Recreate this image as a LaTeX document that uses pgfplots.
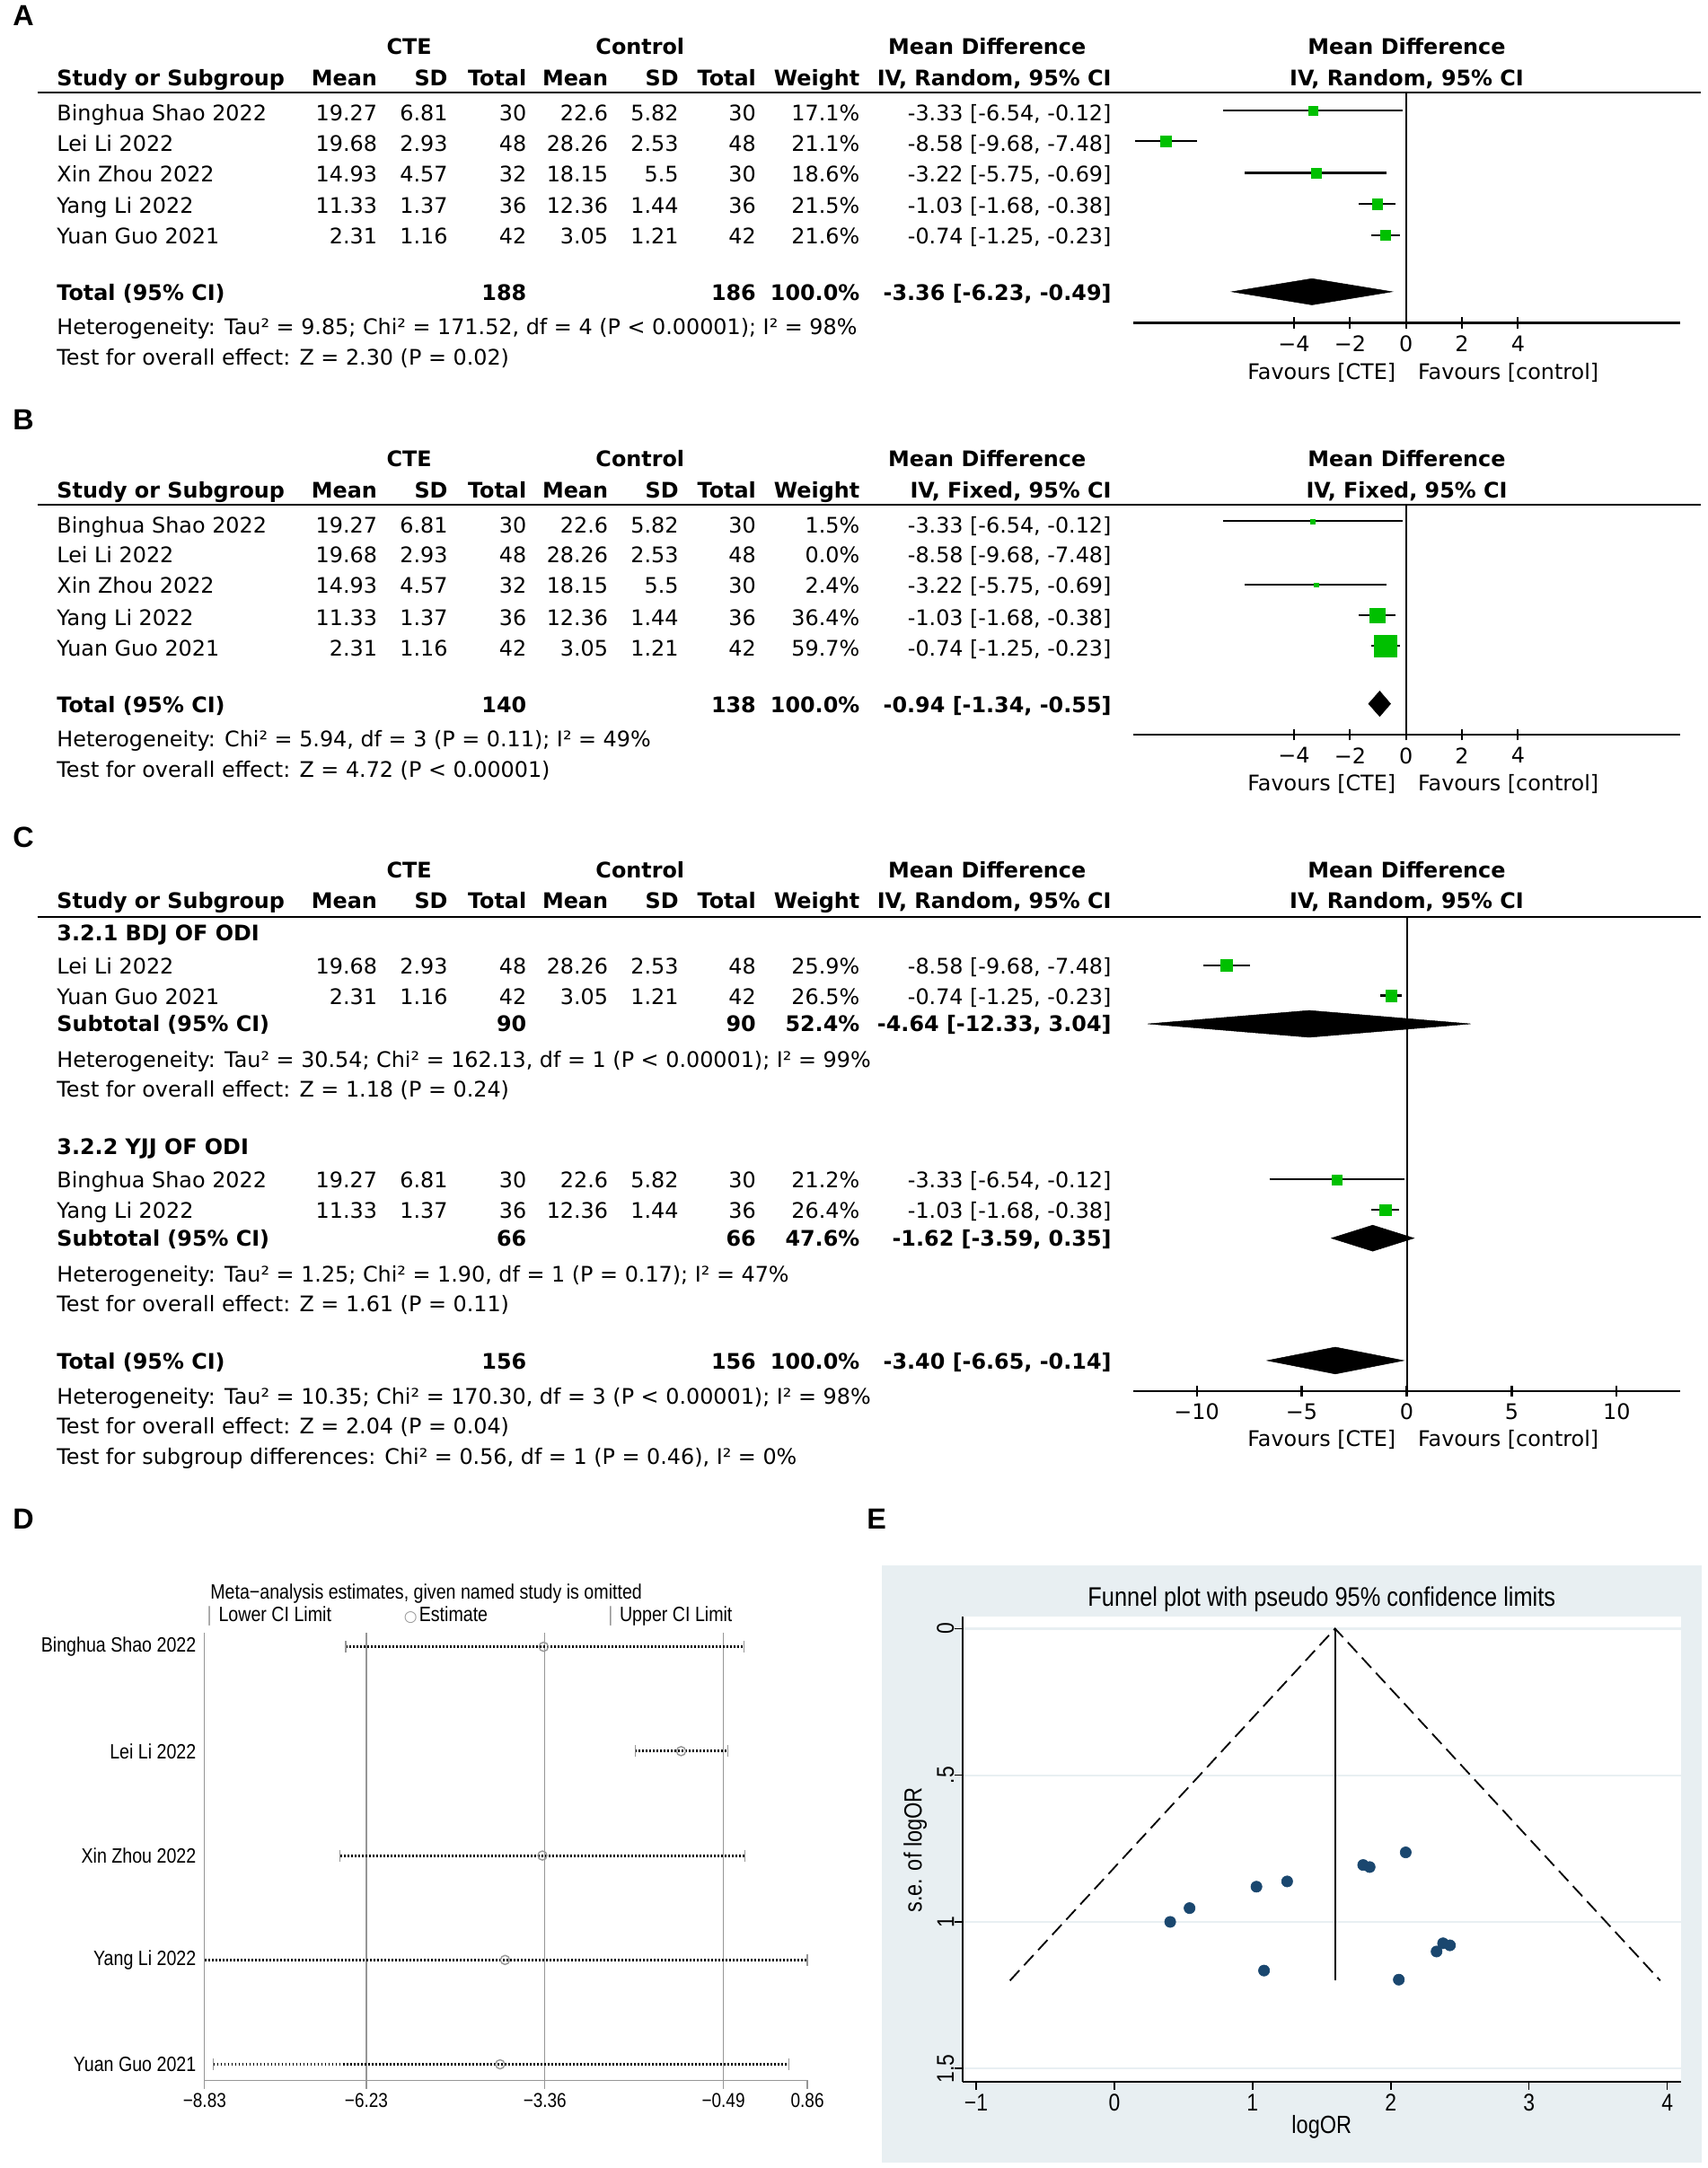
\documentclass[border=0pt]{standalone}
\usepackage{pgfplots}
\usepackage{pgfplotstable}
\pgfplotsset{compat=1.18}
\usepackage{fontspec}
\setmainfont{DejaVu Sans}
\newfontfamily\stata[FakeStretch=0.85]{Liberation Sans}
\newfontfamily\labfont{Liberation Sans}
\definecolor{rmgreen}{RGB}{0,192,0}
\definecolor{stnavy}{RGB}{26,71,111}
\definecolor{stbg}{RGB}{232,239,242}
\definecolor{dgray}{RGB}{150,150,150}
\newcommand{\tf}{\fontsize{15.5}{18}\selectfont}
\tikzset{tx/.style={inner sep=0pt, font=\tf, yshift=-3.5pt},
  st/.style={inner sep=0pt, yshift=-3pt},
  plabel/.style={inner sep=0pt, anchor=mid, font=\labfont\bfseries\fontsize{21}{24}\selectfont}}
\newcommand{\Tl}[3]{\node[tx,anchor=mid west] at (#1pt,-#2pt) {#3};}
\newcommand{\Tr}[3]{\node[tx,anchor=mid east] at (#1pt,-#2pt) {#3};}
\newcommand{\Tc}[3]{\node[tx,anchor=mid] at (#1pt,-#2pt) {#3};}
\newcommand{\Row}[9]{\Tl{41}{#1}{#2}\Tr{273}{#1}{#3}\Tr{324}{#1}{#4}\Tr{381}{#1}{#5}\Tr{440}{#1}{#6}\Tr{491}{#1}{#7}\Tr{547}{#1}{#8}\Tr{622}{#1}{#9}}
\newcommand{\Head}[4]{%
  \Tc{296}{#1}{\bfseries CTE}\Tc{463}{#1}{\bfseries Control}\Tc{714}{#1}{\bfseries Mean Difference}\Tc{1017.5}{#1}{\bfseries Mean Difference}%
  \Tl{41}{#2}{\bfseries Study or Subgroup}\Tr{273}{#2}{\bfseries Mean}\Tr{324}{#2}{\bfseries SD}\Tr{381}{#2}{\bfseries Total}\Tr{440}{#2}{\bfseries Mean}\Tr{491}{#2}{\bfseries SD}\Tr{547}{#2}{\bfseries Total}\Tr{622}{#2}{\bfseries Weight}\Tr{804}{#2}{\bfseries #4}\Tc{1017.5}{#2}{\bfseries #4}%
  \draw[line width=1.5pt] (27pt,-#3pt) -- (1230pt,-#3pt);}
% forest study: md lo hi y halfsize
\newcommand{\FStudy}[5]{%
  \addplot[black, line width=1.4pt] coordinates {(#2,-#4) (#3,-#4)};
  \addplot[only marks, mark=square*, mark size=#5pt, color=rmgreen, mark options={line width=0.2pt}] coordinates {(#1,-#4)};}
% diamond: md lo hi y ytop ybottom
\newcommand{\FDiam}[6]{%
  \addplot[fill=black, draw=black, line width=0.3pt] coordinates {(#2,-#4) (#1,-#5) (#3,-#4) (#1,-#6)} --cycle;}
% D study: y lo est hi
\newcommand{\DStudy}[4]{%
  \addplot[black, line width=2pt, dash pattern=on 1.2pt off 1.4pt] coordinates {(#2,-#1) (#4,-#1)};
  \addplot[only marks, mark=|, mark size=4.2pt, color=dgray, mark options={line width=0.8pt, solid}] coordinates {(#2,-#1) (#4,-#1)};
  \addplot[only marks, mark=o, mark size=3.3pt, color=dgray, mark options={line width=0.9pt, solid}] coordinates {(#3,-#1)};}
\pgfplotsset{
  forest/.style={scale only axis, width=395pt, anchor=south west,
    axis x line=bottom, axis y line=none,
    axis line style={-, line width=1.4pt},
    every outer x axis line/.append style={-},
    major tick style={black, line width=1.4pt},
    tick align=center, major tick length=8pt,
    xticklabel style={font=\tf, inner sep=0pt, yshift=-5pt},
    ytick=\empty, clip=false},
}
\pgfplotstableread{
x se
0.404 1.000
0.544 0.953
1.028 0.880
1.250 0.862
1.083 1.166
1.800 0.806
1.847 0.813
2.108 0.763
2.058 1.197
2.331 1.101
2.378 1.073
2.428 1.080
}\funnel
\begin{document}
\begin{tikzpicture}
\useasboundingbox (0pt,0pt) rectangle (1235pt,-1568pt);
%================ A
\node[plabel] at (17pt,-16pt) {A};
\Head{33}{56}{67}{IV, Random, 95\% CI}
\Row{81}{Binghua Shao 2022}{19.27}{6.81}{30}{22.6}{5.82}{30}{17.1\%}\Tr{804}{81}{-3.33 [-6.54, -0.12]}
\Row{103}{Lei Li 2022}{19.68}{2.93}{48}{28.26}{2.53}{48}{21.1\%}\Tr{804}{103}{-8.58 [-9.68, -7.48]}
\Row{125}{Xin Zhou 2022}{14.93}{4.57}{32}{18.15}{5.5}{30}{18.6\%}\Tr{804}{125}{-3.22 [-5.75, -0.69]}
\Row{148}{Yang Li 2022}{11.33}{1.37}{36}{12.36}{1.44}{36}{21.5\%}\Tr{804}{148}{-1.03 [-1.68, -0.38]}
\Row{170}{Yuan Guo 2021}{2.31}{1.16}{42}{3.05}{1.21}{42}{21.6\%}\Tr{804}{170}{-0.74 [-1.25, -0.23]}
\Tl{41}{211}{\bfseries Total (95\% CI)}\Tr{381}{211}{\bfseries 188}\Tr{547}{211}{\bfseries 186}\Tr{622}{211}{\bfseries 100.0\%}\Tr{804}{211}{\bfseries -3.36 [-6.23, -0.49]}
\Tl{41}{236}{Heterogeneity: Tau² = 9.85; Chi² = 171.52, df = 4 (P < 0.00001); I² = 98\%}
\Tl{41}{258}{Test for overall effect: Z = 2.30 (P = 0.02)}
\Tc{956}{268}{Favours [CTE]}\Tc{1091}{268}{Favours [control]}
\begin{axis}[forest, at={(820pt,-233.5pt)}, height=166.5pt,
  xmin=-9.73, xmax=9.78, ymin=-233.5, ymax=-67,
  xtick={-4,-2,0,2,4}, xticklabels={−4,−2,0,2,4}]
\addplot[black, line width=1.3pt] coordinates {(0,-67) (0,-233.5)};
\FStudy{-3.33}{-6.54}{-0.12}{80}{3.4}
\FStudy{-8.58}{-9.68}{-7.48}{102}{3.8}
\FStudy{-3.22}{-5.75}{-0.69}{125}{3.55}
\FStudy{-1.03}{-1.68}{-0.38}{147.5}{3.8}
\FStudy{-0.74}{-1.25}{-0.23}{170}{3.7}
\FDiam{-3.36}{-6.23}{-0.49}{211}{201.5}{220.5}
\end{axis}
%================ B
\node[plabel] at (17pt,-308pt) {B};
\Head{331}{354}{365}{IV, Fixed, 95\% CI}
\Row{379}{Binghua Shao 2022}{19.27}{6.81}{30}{22.6}{5.82}{30}{1.5\%}\Tr{804}{379}{-3.33 [-6.54, -0.12]}
\Row{401}{Lei Li 2022}{19.68}{2.93}{48}{28.26}{2.53}{48}{0.0\%}\Tr{804}{401}{-8.58 [-9.68, -7.48]}
\Row{423}{Xin Zhou 2022}{14.93}{4.57}{32}{18.15}{5.5}{30}{2.4\%}\Tr{804}{423}{-3.22 [-5.75, -0.69]}
\Row{446}{Yang Li 2022}{11.33}{1.37}{36}{12.36}{1.44}{36}{36.4\%}\Tr{804}{446}{-1.03 [-1.68, -0.38]}
\Row{468}{Yuan Guo 2021}{2.31}{1.16}{42}{3.05}{1.21}{42}{59.7\%}\Tr{804}{468}{-0.74 [-1.25, -0.23]}
\Tl{41}{509}{\bfseries Total (95\% CI)}\Tr{381}{509}{\bfseries 140}\Tr{547}{509}{\bfseries 138}\Tr{622}{509}{\bfseries 100.0\%}\Tr{804}{509}{\bfseries -0.94 [-1.34, -0.55]}
\Tl{41}{534}{Heterogeneity: Chi² = 5.94, df = 3 (P = 0.11); I² = 49\%}
\Tl{41}{556}{Test for overall effect: Z = 4.72 (P < 0.00001)}
\Tc{956}{566}{Favours [CTE]}\Tc{1091}{566}{Favours [control]}
\begin{axis}[forest, at={(820pt,-531.5pt)}, height=166.5pt,
  xmin=-9.73, xmax=9.78, ymin=-531.5, ymax=-365,
  xtick={-4,-2,0,2,4}, xticklabels={−4,−2,0,2,4}]
\addplot[black, line width=1.3pt] coordinates {(0,-365) (0,-531.5)};
\FStudy{-3.33}{-6.54}{-0.12}{377}{1.5}
\FStudy{-3.22}{-5.75}{-0.69}{423}{1.5}
\FStudy{-1.03}{-1.68}{-0.38}{445}{5.45}
\FStudy{-0.74}{-1.25}{-0.23}{467}{7.9}
\FDiam{-0.94}{-1.34}{-0.55}{509}{499.8}{518.2}
\end{axis}
%================ C
\node[plabel] at (17pt,-610pt) {C};
\Head{629}{651}{663}{IV, Random, 95\% CI}
\Tl{41}{674}{\bfseries 3.2.1 BDJ OF ODI}
\Row{698}{Lei Li 2022}{19.68}{2.93}{48}{28.26}{2.53}{48}{25.9\%}\Tr{804}{698}{-8.58 [-9.68, -7.48]}
\Row{720}{Yuan Guo 2021}{2.31}{1.16}{42}{3.05}{1.21}{42}{26.5\%}\Tr{804}{720}{-0.74 [-1.25, -0.23]}
\Tl{41}{740}{\bfseries Subtotal (95\% CI)}\Tr{381}{740}{\bfseries 90}\Tr{547}{740}{\bfseries 90}\Tr{622}{740}{\bfseries 52.4\%}\Tr{804}{740}{\bfseries -4.64 [-12.33, 3.04]}
\Tl{41}{765.5}{Heterogeneity: Tau² = 30.54; Chi² = 162.13, df = 1 (P < 0.00001); I² = 99\%}
\Tl{41}{787}{Test for overall effect: Z = 1.18 (P = 0.24)}
\Tl{41}{829}{\bfseries 3.2.2 YJJ OF ODI}
\Row{853}{Binghua Shao 2022}{19.27}{6.81}{30}{22.6}{5.82}{30}{21.2\%}\Tr{804}{853}{-3.33 [-6.54, -0.12]}
\Row{875}{Yang Li 2022}{11.33}{1.37}{36}{12.36}{1.44}{36}{26.4\%}\Tr{804}{875}{-1.03 [-1.68, -0.38]}
\Tl{41}{895}{\bfseries Subtotal (95\% CI)}\Tr{381}{895}{\bfseries 66}\Tr{547}{895}{\bfseries 66}\Tr{622}{895}{\bfseries 47.6\%}\Tr{804}{895}{\bfseries -1.62 [-3.59, 0.35]}
\Tl{41}{921}{Heterogeneity: Tau² = 1.25; Chi² = 1.90, df = 1 (P = 0.17); I² = 47\%}
\Tl{41}{942.5}{Test for overall effect: Z = 1.61 (P = 0.11)}
\Tl{41}{984}{\bfseries Total (95\% CI)}\Tr{381}{984}{\bfseries 156}\Tr{547}{984}{\bfseries 156}\Tr{622}{984}{\bfseries 100.0\%}\Tr{804}{984}{\bfseries -3.40 [-6.65, -0.14]}
\Tl{41}{1009}{Heterogeneity: Tau² = 10.35; Chi² = 170.30, df = 3 (P < 0.00001); I² = 98\%}
\Tl{41}{1031}{Test for overall effect: Z = 2.04 (P = 0.04)}
\Tl{41}{1053}{Test for subgroup differences: Chi² = 0.56, df = 1 (P = 0.46), I² = 0\%}
\Tc{956}{1040}{Favours [CTE]}\Tc{1091}{1040}{Favours [control]}
\begin{axis}[forest, at={(820pt,-1006pt)}, height=343pt,
  xmin=-13, xmax=13, ymin=-1006, ymax=-663,
  xtick={-10,-5,0,5,10}, xticklabels={−10,−5,0,5,10}]
\addplot[black, line width=1.3pt] coordinates {(0,-663) (0,-1006)};
\FStudy{-8.58}{-9.68}{-7.48}{698}{4.1}
\FStudy{-0.74}{-1.25}{-0.23}{720}{4.1}
\FDiam{-4.64}{-12.33}{3.04}{740.5}{730.8}{750.2}
\FStudy{-3.33}{-6.54}{-0.12}{853}{3.55}
\FStudy{-1.03}{-1.68}{-0.38}{875}{4.1}
\FDiam{-1.62}{-3.59}{0.35}{895.5}{886.1}{904.9}
\FDiam{-3.40}{-6.65}{-0.14}{984}{974.3}{993.7}
\end{axis}
%================ D
\node[plabel] at (17pt,-1103pt) {D};
\node[st, anchor=mid west, font=\stata\fontsize{15}{17}\selectfont] at (152pt,-1150.5pt) {Meta−analysis estimates, given named study is omitted};
\node[st, anchor=mid, text=dgray, font=\stata\fontsize{15}{17}\selectfont] at (151.5pt,-1166.8pt) {|};
\node[st, anchor=mid west, font=\stata\fontsize{15}{17}\selectfont] at (158pt,-1166.8pt) {Lower CI Limit};
\node[st, anchor=mid, text=dgray, font=\normalfont\fontsize{11}{13}\selectfont] at (297pt,-1166.8pt) {○};
\node[st, anchor=mid west, font=\stata\fontsize{15}{17}\selectfont] at (303pt,-1166.8pt) {Estimate};
\node[st, anchor=mid, text=dgray, font=\stata\fontsize{15}{17}\selectfont] at (441.6pt,-1166.8pt) {|};
\node[st, anchor=mid west, font=\stata\fontsize{15}{17}\selectfont] at (448pt,-1166.8pt) {Upper CI Limit};
\begin{axis}[scale only axis, at={(148pt,-1504.5pt)}, anchor=south west,
  width=436pt, height=323.8pt,
  xmin=-8.83, xmax=0.86, ymin=-1504.5, ymax=-1180.7,
  axis x line=bottom, axis y line=left,
  axis line style={-, draw=dgray, line width=0.8pt},
  every outer x axis line/.append style={-}, every outer y axis line/.append style={-},
  tick align=outside, major tick length=6pt,
  x tick style={dgray, line width=0.8pt},
  ytick style={draw=none},
  xtick={-8.83,0.86}, xticklabels={−8.83,0.86},
  extra x ticks={-6.23,-3.36,-0.49}, extra x tick labels={−6.23,−3.36,−0.49},
  extra x tick style={grid=major},
  major grid style={dgray, line width=0.8pt},
  xticklabel style={font=\stata\fontsize{14.5}{16}\selectfont, inner sep=0pt, yshift=-3pt},
  ytick={-1493,-1417.5,-1342,-1266.5,-1191},
  yticklabels={Yuan Guo 2021,Yang Li 2022,Xin Zhou 2022,Lei Li 2022,Binghua Shao 2022},
  yticklabel style={font=\stata\fontsize{15}{17}\selectfont, inner sep=0pt, xshift=0pt},
  clip=false]
\DStudy{1191}{-6.56}{-3.38}{-0.16}
\DStudy{1266.5}{-1.91}{-1.17}{-0.42}
\DStudy{1342}{-6.65}{-3.40}{-0.14}
\DStudy{1417.5}{-8.83}{-4.00}{0.86}
\DStudy{1493}{-8.69}{-4.08}{0.56}
\end{axis}
%================ E
\node[plabel] at (634pt,-1103pt) {E};
\fill[stbg] (638pt,-1132pt) rectangle (1231pt,-1564pt);
\node[st, anchor=mid, font=\stata\fontsize{19.4}{22}\selectfont] at (956pt,-1156pt) {Funnel plot with pseudo 95\% confidence limits};
\node[st, anchor=mid, font=\stata\fontsize{18}{20}\selectfont] at (956pt,-1537pt) {logOR};
\node[inner sep=0pt, anchor=mid, rotate=90, font=\stata\fontsize{18}{20}\selectfont] at (664pt,-1338pt) {s.e. of logOR};
\begin{axis}[scale only axis, at={(696.3pt,-1505.5pt)}, anchor=south west,
  width=519.4pt, height=336.5pt,
  xmin=-1.0975, xmax=4.0975, ymin=-1.5447, ymax=0.042,
  axis background/.style={fill=white},
  axis x line*=bottom, axis y line*=left,
  axis line style={-, line width=1pt},
  tick align=outside, major tick length=6pt,
  major tick style={black, line width=1pt},
  xtick={-1,0,1,2,3,4}, xticklabels={−1,0,1,2,3,4},
  ytick={-1.5,-1,-0.5,0}, yticklabels={1.5,1,.5,0},
  ymajorgrids, major grid style={stbg, line width=1.5pt},
  xticklabel style={font=\stata\fontsize{17.5}{20}\selectfont, inner sep=0pt, yshift=-3pt},
  yticklabel style={font=\stata\fontsize{17.5}{20}\selectfont, rotate=90, anchor=south, inner sep=0pt},
  clip=false]
\addplot[black, line width=1.2pt, dash pattern=on 10pt off 5pt] coordinates {(-0.755,-1.2) (1.597,0) (3.949,-1.2)};
\addplot[black, line width=1.2pt] coordinates {(1.597,0) (1.597,-1.2)};
\addplot[only marks, mark=*, mark size=4pt, color=stnavy] table[x=x, y expr=-\thisrow{se}] {\funnel};
\end{axis}
\end{tikzpicture}
\end{document}
